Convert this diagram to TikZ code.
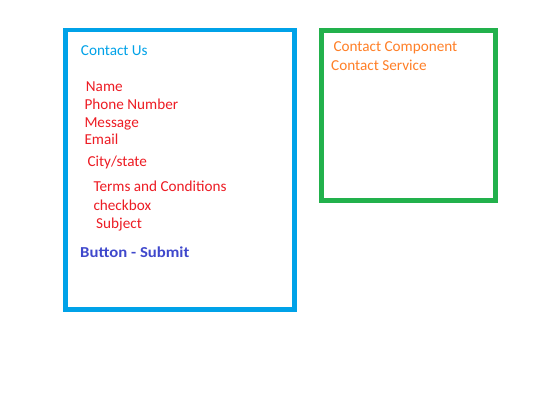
\documentclass[tikz,border=0pt]{standalone}
\usepackage{fontspec}
\setmainfont{Carlito}
\newfontfamily\btnfont[FakeStretch=1.1]{Carlito}
\definecolor{pcyan}{HTML}{00A2E8}
\definecolor{pgreen}{HTML}{22B14C}
\definecolor{pred}{HTML}{ED1C24}
\definecolor{pindigo}{HTML}{3F48CC}
\definecolor{porange}{HTML}{FF7F27}
\begin{document}
\begin{tikzpicture}[x=1pt,y=-1pt,
  lbl/.style={anchor=base west,inner sep=0pt,font=\fontsize{15.2}{17}\selectfont},
  redtxt/.style={lbl,text=pred},
  orangetxt/.style={lbl,text=porange},
  boxline/.style={line width=4.7pt}]
\useasboundingbox (0,0) rectangle (540,405);
\fill[white] (0,0) rectangle (540,405);
\draw[boxline,pcyan] (65.7,30) rectangle (294.7,309.3);
\draw[boxline,pgreen] (321.5,30.7) rectangle (495.8,200.8);
\node[lbl,text=pcyan] (title) at (80.7,55.7) {Contact Us};
\node[redtxt] (name) at (85.7,91) {Name};
\node[redtxt] (phone) at (84.3,109) {Phone Number};
\node[redtxt] (msg) at (84.3,127) {Message};
\node[redtxt] (email) at (84.3,144.5) {Email};
\node[redtxt] (city) at (87.3,166) {City/state};
\node[redtxt] (terms) at (93.3,191.7) {Terms and Conditions};
\node[redtxt] (check) at (93.3,210) {checkbox};
\node[redtxt] (subj) at (96,228) {Subject};
\node[lbl,text=pindigo,font=\fontsize{15.2}{17}\btnfont\bfseries] (btn) at (80,257.7) {Button - Submit};
\node[orangetxt] (comp) at (333.3,51) {Contact Component};
\node[orangetxt] (serv) at (331,70) {Contact Service};
\end{tikzpicture}
\end{document}
